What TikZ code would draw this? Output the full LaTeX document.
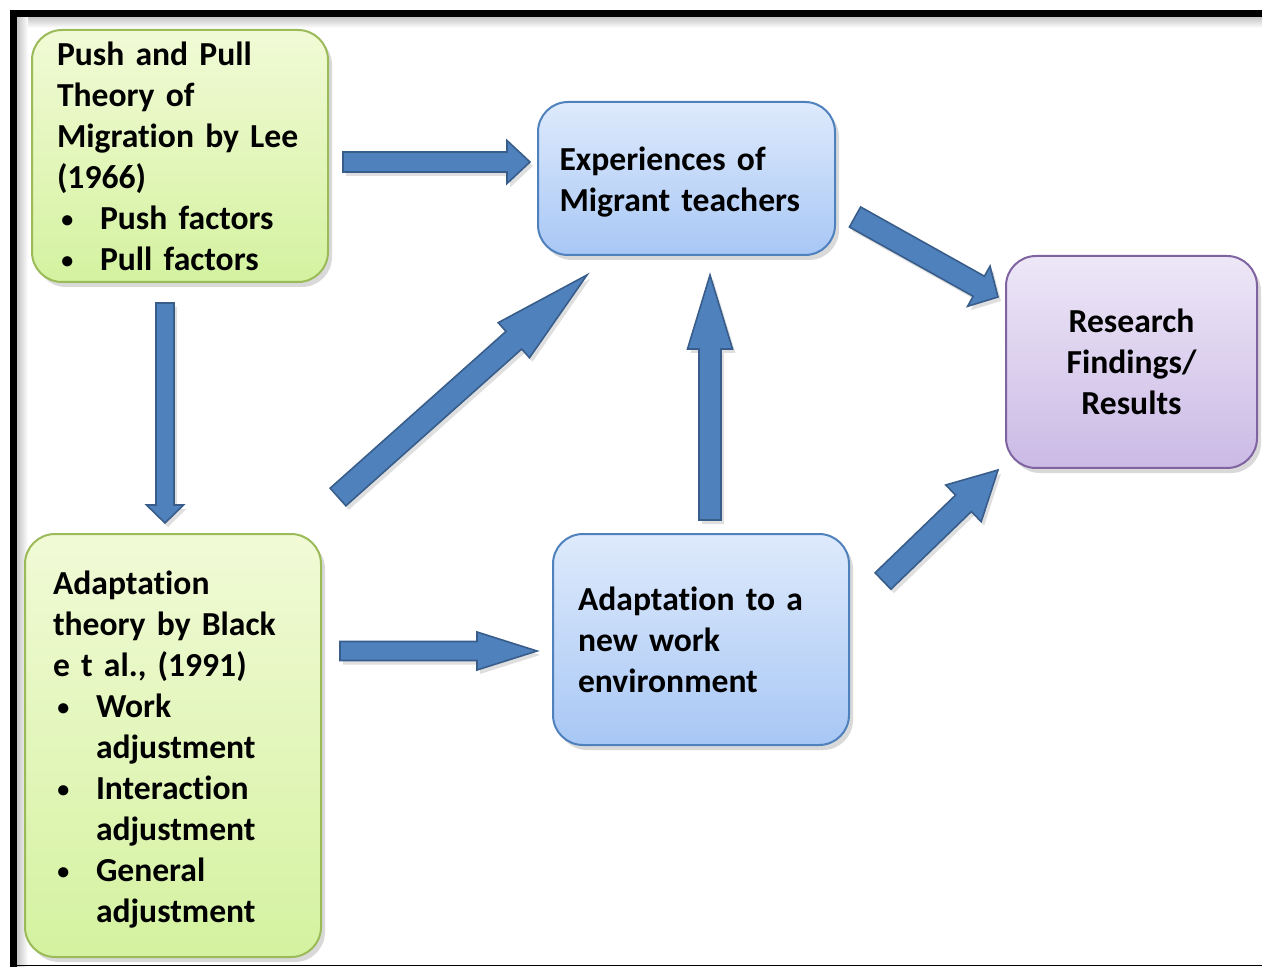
\documentclass[tikz,border=0pt]{standalone}
\usepackage{fontspec}
\setmainfont{Carlito}[Ligatures=NoCommon, WordSpace=0.8]
\usetikzlibrary{calc,shadows}

\definecolor{grtop}{RGB}{241,250,214}
\definecolor{grbot}{RGB}{212,242,160}
\definecolor{grline}{RGB}{155,187,89}
\definecolor{bltop}{RGB}{222,234,252}
\definecolor{blbot}{RGB}{168,199,245}
\definecolor{blline}{RGB}{79,129,189}
\definecolor{pptop}{RGB}{237,231,247}
\definecolor{ppbot}{RGB}{203,186,229}
\definecolor{ppline}{RGB}{128,100,162}
\definecolor{arfill}{RGB}{79,129,189}
\definecolor{arline}{RGB}{56,93,138}

\begin{document}
\begin{tikzpicture}[x=0.5pt,y=-0.5pt,
  box/.style={rounded corners=15pt, line width=1pt, inner ysep=0pt,
    drop shadow={shadow xshift=2pt,shadow yshift=-2.5pt,opacity=0.3},
    font=\bfseries\fontsize{16.8}{20.5}\selectfont},
  greenbox/.style={box, draw=grline, top color=grtop, bottom color=grbot, align=left},
  bluebox/.style={box, draw=blline, top color=bltop, bottom color=blbot, align=left},
  purplebox/.style={box, draw=ppline, top color=pptop, bottom color=ppbot, align=center},
  blockarrow/.style={draw=arline, fill=arfill, line width=0.8pt, line join=miter,
    drop shadow={shadow xshift=1.5pt,shadow yshift=-2pt,opacity=0.25}}]

\newcommand\bul{\makebox[21.5pt][l]{\hspace{2.2pt}\raisebox{0.6pt}{\fontsize{12}{12}\selectfont\textbullet}}}
\newcommand\ind{\hspace*{21.5pt}}
\newcommand\lift{\rule{0pt}{15.5pt}}
%% tail, tip, half shaft, half head, head length
\newcommand\blockarrow[5]{%
  \coordinate (ah) at ($(#2)!#5!(#1)$);
  \draw[blockarrow] ($(#1)!#3!90:(#2)$) -- ($(ah)!#3!-90:(#1)$)
    -- ($(ah)!#4!-90:(#1)$) -- (#2) -- ($(ah)!#4!90:(#1)$)
    -- ($(ah)!#3!90:(#1)$) -- ($(#1)!#3!-90:(#2)$) -- cycle;}

\useasboundingbox (0,0) rectangle (1262,967);

  %% frame
  \shade[top color=gray!45, bottom color=white] (17,17) rectangle (1262,28);
  \shade[left color=gray!45, right color=white] (17,17) rectangle (28,967);
  \draw[line width=3.5pt] (13.5,967) -- (13.5,13.5) -- (1262,13.5);
  \draw[line width=0.6pt] (10,965.5) -- (1262,965.5);

  %% boxes
  \node[greenbox, minimum width=148pt, minimum height=126pt,
        text width=123pt, inner xsep=12.5pt] (pushpull) at (180,156)
  {Push and Pull\\Theory of\\Migration by Lee\\(1966)\\\bul Push factors\\\bul Pull factors};
  \node[bluebox, minimum width=148.5pt, minimum height=76.5pt,
        text width=127pt, inner xsep=10.75pt] (experience) at (686.5,178.5)
  {\lift Experiences of\\Migrant teachers};
  \node[purplebox, minimum width=125.5pt, minimum height=106pt,
        text width=110pt] (results) at (1131.5,362)
  {Research\\Findings/\\Results};
  \node[greenbox, minimum width=148pt, minimum height=211.5pt,
        text width=120pt, inner xsep=14pt] (blacktheory) at (173,745.5)
  {\lift Adaptation\\theory by Black\\e t al., (1991)\\\bul Work\\\ind adjustment\\%
   \bul Interaction\\\ind adjustment\\\bul General\\\ind adjustment};
  \node[bluebox, minimum width=148pt, minimum height=105.5pt,
        text width=123pt, inner xsep=12.5pt] (workenv) at (701,639.5)
  {Adaptation to a\\new work\\environment};

  %% arrow ends
  \coordinate (t1) at (343,162);  \coordinate (h1) at (530,162);  %% push -> experience
  \coordinate (t2) at (165,303);  \coordinate (h2) at (165,523);  %% push -> black
  \coordinate (t3) at (340,651);  \coordinate (h3) at (537,651);  %% black -> workenv
  \coordinate (t4) at (338,497);  \coordinate (h4) at (587,275);  %% black -> experience
  \coordinate (t5) at (710,520);  \coordinate (h5) at (710,275);  %% workenv -> experience
  \coordinate (t6) at (855,217);  \coordinate (h6) at (998,297);  %% experience -> results
  \coordinate (t7) at (883,581);  \coordinate (h7) at (998,470);  %% workenv -> results

  %% arrows
  \blockarrow{t1}{h1}{5pt}{10.75pt}{11.5pt}
  \blockarrow{t2}{h2}{4.5pt}{9.25pt}{9pt}
  \blockarrow{t3}{h3}{4.75pt}{9.5pt}{30pt}
  \blockarrow{t4}{h4}{5.9pt}{11.75pt}{49pt}
  \blockarrow{t5}{h5}{5.5pt}{11.25pt}{37pt}
  \blockarrow{t6}{h6}{5.75pt}{11.5pt}{11pt}
  \blockarrow{t7}{h7}{5.7pt}{12.75pt}{24pt}

\end{tikzpicture}
\end{document}
